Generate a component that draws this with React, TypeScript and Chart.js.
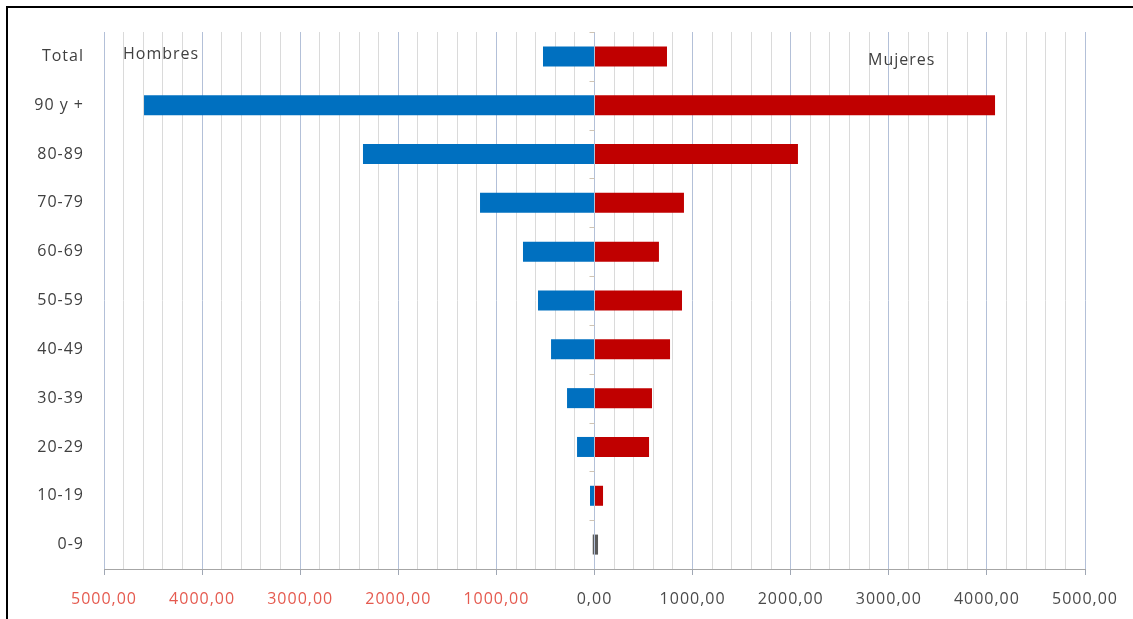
import React, { useEffect, useRef } from "react";
import { Chart, registerables } from "chart.js";

Chart.register(...registerables);

// Age groups, top to bottom
const categorias = ["Total", "90 y +", "80-89", "70-79", "60-69", "50-59", "40-49", "30-39", "20-29", "10-19", "0-9"];
// Men (drawn to the left) and women (drawn to the right)
const hombres = [525, 4592, 2360, 1167, 729, 576, 443, 280, 178, 46, 18];
const mujeres = [739, 4083, 2074, 912, 657, 892, 770, 586, 556, 87, 36];

// Axis range and grid steps
const ejeMin = -5000;
const ejeMax = 5000;
const pasoMayor = 1000;
const pasoMenor = 200;

const AZUL = "#0070c0";
const ROJO = "#c00000";
const GRIS_BARRA = "#5a5a5a";
const FUENTE = '"Open Sans", "DejaVu Sans", sans-serif';

const formato = (v: number) => Math.abs(v).toFixed(2).replace(".", ",");

export default function App() {
  const ref = useRef<HTMLCanvasElement | null>(null);

  useEffect(() => {
    if (!ref.current) return;

    const espaciado = {
      id: "espaciado",
      beforeDraw(chart: any) {
        chart.ctx.letterSpacing = "1px";
      },
    };

    const rotulos = {
      id: "rotulos",
      afterDraw(chart: any) {
        const { ctx, chartArea, scales } = chart;
        const x0 = scales.x.getPixelForValue(0);
        const banda = scales.y.getPixelForValue(1) - scales.y.getPixelForValue(0);
        ctx.save();
        // short tick marks on the zero axis between age groups
        ctx.strokeStyle = "#cfc4b4";
        ctx.lineWidth = 1;
        for (let i = 0; i < categorias.length; i++) {
          const y = Math.round(scales.y.getPixelForValue(i) - banda / 2) + 0.5;
          ctx.beginPath();
          ctx.moveTo(x0 - 5, y);
          ctx.lineTo(x0, y);
          ctx.stroke();
        }
        ctx.font = `16px ${FUENTE}`;
        ctx.letterSpacing = "1px";
        ctx.fillStyle = "#404040";
        ctx.textBaseline = "middle";
        ctx.textAlign = "left";
        ctx.fillText("Hombres", chartArea.left + 19, chartArea.top + 22);
        ctx.fillText("Mujeres", chartArea.left + 764, chartArea.top + 28);
        ctx.restore();
      },
    };

    const chart = new Chart(ref.current, {
      type: "bar",
      data: {
        labels: categorias,
        datasets: [
          {
            label: "Hombres",
            data: hombres.map((v) => -v),
            backgroundColor: categorias.map((_, i) => (i === categorias.length - 1 ? GRIS_BARRA : AZUL)),
            barPercentage: 0.41,
            categoryPercentage: 1,
          },
          {
            label: "Mujeres",
            data: mujeres,
            backgroundColor: categorias.map((_, i) => (i === categorias.length - 1 ? GRIS_BARRA : ROJO)),
            barPercentage: 0.41,
            categoryPercentage: 1,
          },
        ],
      },
      options: {
        indexAxis: "y",
        animation: false,
        responsive: true,
        maintainAspectRatio: false,
        layout: { padding: { top: 32, right: 48, left: 0, bottom: 0 } },
        plugins: {
          legend: { display: false },
          tooltip: { enabled: false },
        },
        scales: {
          x: {
            type: "linear",
            stacked: true,
            min: ejeMin,
            max: ejeMax,
            afterFit(scale: any) {
              scale.height = 50;
            },
            ticks: {
              stepSize: pasoMenor,
              autoSkip: false,
              maxRotation: 0,
              padding: 15,
              font: { family: FUENTE, size: 16 },
              color: (c: any) => (c.tick && c.tick.value < 0 ? "#e55a4f" : "#4a4a4a"),
              callback: (v: any) => (Math.round(Number(v)) % pasoMayor === 0 ? formato(Number(v)) : ""),
            },
            grid: {
              color: (c: any) =>
                c.tick && Math.round(c.tick.value) % pasoMayor === 0 ? "#b3c0d8" : "#dadada",
              tickColor: (c: any) =>
                c.tick && Math.round(c.tick.value) % pasoMayor === 0 ? "#a0a7b4" : "rgba(0,0,0,0)",
              tickLength: 6,
              lineWidth: 1,
            },
            border: { display: true, color: "#a6a6a6" },
          },
          y: {
            type: "category",
            stacked: true,
            afterFit(scale: any) {
              scale.width = 104;
            },
            ticks: {
              padding: 12,
              font: { family: FUENTE, size: 16 },
              color: "#404040",
            },
            grid: { display: false },
            border: { display: false },
          },
        },
      },
      plugins: [espaciado, rotulos],
    } as any);

    return () => chart.destroy();
  }, []);

  return (
    <div style={{ position: "fixed", left: 0, top: 0, width: 1133, height: 619, background: "#fff" }}>
      <canvas ref={ref} />
      <div
        style={{
          position: "absolute",
          left: 6,
          top: 6,
          right: 0,
          bottom: 0,
          borderTop: "2px solid #000",
          borderLeft: "2px solid #000",
          pointerEvents: "none",
        }}
      />
    </div>
  );
}
